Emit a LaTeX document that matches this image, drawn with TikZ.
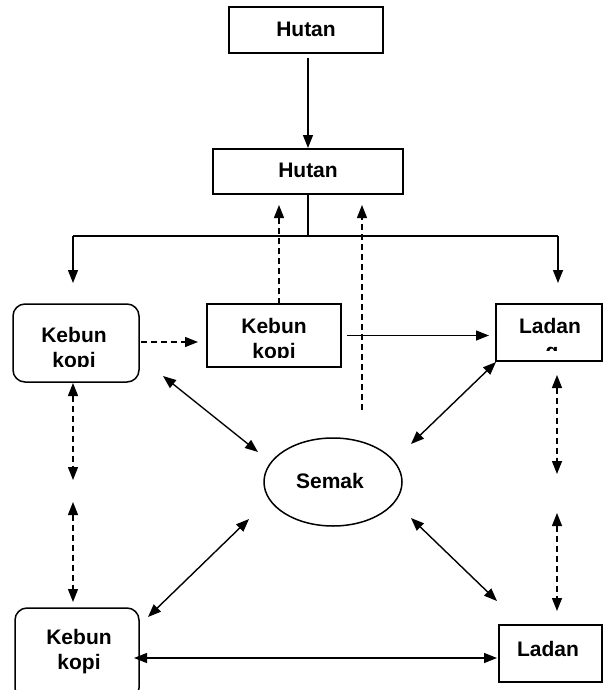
\documentclass[tikz,border=0pt]{standalone}
\usepackage{fontspec}
\setmainfont{Liberation Sans}
\usetikzlibrary{arrows.meta,shapes.geometric}
\begin{document}
\begin{tikzpicture}[x=1pt,y=-1pt,
  box/.style={draw, line width=1.5pt, inner sep=0pt},
  rbox/.style={box, rounded corners=12pt},
  lbl/.style={font=\bfseries\fontsize{21}{25}\selectfont, anchor=base, inner sep=0pt},
  conn/.style={line width=1.4pt, -{Triangle[length=13pt,width=10pt]}},
  both/.style={line width=1.4pt, {Triangle[length=13pt,width=10pt]}-{Triangle[length=13pt,width=10pt]}},
  dsh/.style={dash pattern=on 6pt off 4pt}]
\useasboundingbox (0,0) rectangle (603,690);
\clip (0,0) rectangle (603,690);
% boxes
\node[box, minimum width=154pt, minimum height=46pt] (hutanA) at (306,30) {};
\node[box, minimum width=190pt, minimum height=45pt] (hutanB) at (308,171.5) {};
\node[rbox, minimum width=126pt, minimum height=78pt] (kA) at (76,343) {};
\node[box, line width=2.6pt, minimum width=134pt, minimum height=63pt] (kB) at (274,335.5) {};
\node[box, minimum width=106pt, minimum height=57pt] (lA) at (549,332.5) {};
\node[draw, line width=1.5pt, ellipse, minimum width=138pt, minimum height=88pt, inner sep=0pt] (semak) at (333,482) {};
\node[rbox, minimum width=124pt, minimum height=92pt] (kC) at (77,654) {};
\node[box, minimum width=103pt, minimum height=57pt] (lB) at (550.5,653.5) {};
% labels
\node[lbl] (tHA) at (306,37) {Hutan};
\node[lbl] (tHB) at (308,177) {Hutan};
\node[lbl] (tSe) at (330,488) {Semak};
\node[lbl] (tLB) at (548,656) {Ladan};
\node[lbl] (tKC1) at (79,644) {Kebun};
\node[lbl] (tKC2) at (79,669) {kopi};
\begin{scope}
  \clip (14,305) rectangle (138,366);
  \node[lbl] (tKA1) at (74,342) {Kebun};
  \node[lbl] (tKA2) at (74,367) {kopi};
\end{scope}
\begin{scope}
  \clip (208,305) rectangle (340,357);
  \node[lbl] (tKB1) at (274,333) {Kebun};
  \node[lbl] (tKB2) at (274,358) {kopi};
\end{scope}
\begin{scope}
  \clip (497,305) rectangle (601,350);
  \node[lbl] (tLA1) at (550,333) {Ladan};
  \node[lbl] (tLA2) at (552,358) {g};
\end{scope}
% tree from hutan
\coordinate (a1) at (308,58);
\coordinate (a2) at (308,148);
\draw[conn] (a1) -- (a2);
\coordinate (j) at (308,236);
\coordinate (jl) at (73,236);
\coordinate (jr) at (558,236);
\coordinate (tl) at (73,283);
\coordinate (tr) at (558,283);
\draw[line width=1.4pt] (hutanB.south -| j) -- (j) -- (jl);
\draw[line width=1.4pt] (j) -- (jr);
\draw[conn] (jl) -- (tl);
\draw[conn] (jr) -- (tr);
% dashed up arrows
\coordinate (u1s) at (279,304);
\coordinate (u1e) at (279,205);
\coordinate (u2s) at (362,410);
\coordinate (u2e) at (362,205);
\draw[conn, dsh] (u1s) -- (u1e);
\draw[conn, dsh] (u2s) -- (u2e);
% horizontal arrows top row
\coordinate (h1s) at (141,342);
\coordinate (h1e) at (198,342);
\draw[conn, dsh] (h1s) -- (h1e);
\coordinate (h2s) at (347,335.5);
\coordinate (h2e) at (489,335.5);
\draw[conn] (h2s) -- (h2e);
% diagonals to semak
\coordinate (d1a) at (163,376);
\coordinate (d1b) at (258,452);
\coordinate (d2a) at (496,362);
\coordinate (d2b) at (411,444);
\coordinate (d3a) at (249,519);
\coordinate (d3b) at (148,617);
\coordinate (d4a) at (411,518);
\coordinate (d4b) at (497,601);
\draw[both] (d1a) -- (d1b);
\draw[both] (d2a) -- (d2b);
\draw[both] (d3a) -- (d3b);
\draw[both] (d4a) -- (d4b);
% vertical dashed double arrows
\coordinate (v1a) at (73,383);
\coordinate (v1b) at (73,480);
\coordinate (v2a) at (73,502);
\coordinate (v2b) at (73,602);
\coordinate (v3a) at (557,375);
\coordinate (v3b) at (557,474);
\coordinate (v4a) at (557,513);
\coordinate (v4b) at (557,611);
\draw[both, dsh] (v1a) -- (v1b);
\draw[both, dsh] (v2a) -- (v2b);
\draw[both, dsh] (v3a) -- (v3b);
\draw[both, dsh] (v4a) -- (v4b);
% bottom arrow
\coordinate (b1) at (134,658);
\coordinate (b2) at (497,658);
\draw[both] (b1) -- (b2);
\end{tikzpicture}
\end{document}
